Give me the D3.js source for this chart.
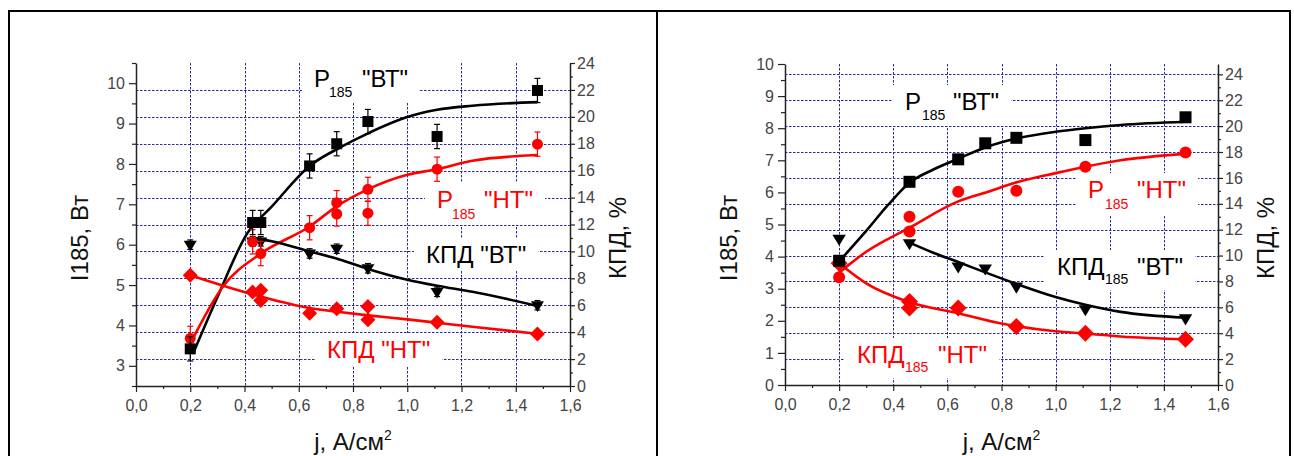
<!DOCTYPE html>
<html>
<head>
<meta charset="utf-8">
<script src="https://cdn.jsdelivr.net/npm/d3@7"></script>
<style>
body{margin:0;background:#fff;}
svg text{font-family:"Liberation Sans",Arial,sans-serif;}
</style>
</head>
<body>
<div class="c_chart"></div>
<script>
/*DATA
------------------------------------------------------
*/
// left panel: measured points
const jA_pBT = [0.2, 0.43, 0.46, 0.64, 0.74, 0.855, 1.11, 1.48];
const pA_BT  = [3.42, 6.55, 6.55, 7.95, 8.5, 9.05, 8.68, 9.82];
const jA_pHT = [0.2, 0.43, 0.46, 0.64, 0.74, 0.74, 0.855, 0.855, 1.11, 1.48];
const pA_HT  = [3.68, 6.07, 5.78, 6.42, 7.04, 6.76, 7.37, 6.78, 7.87, 8.49];
const jA_eBT = [0.2, 0.43, 0.46, 0.64, 0.74, 0.855, 1.11, 1.48];
const eA_BT  = [10.5, 10.75, 10.75, 9.85, 10.2, 8.75, 7.0, 6.0];
const jA_eHT = [0.2, 0.43, 0.46, 0.46, 0.64, 0.74, 0.855, 0.855, 1.11, 1.48];
const eA_HT  = [8.23, 6.98, 7.11, 6.36, 5.41, 5.74, 5.91, 4.92, 4.74, 3.87];
// left panel: fitted curves
const fjA_pBT = [0.21, 0.3, 0.41, 0.5, 0.64, 0.75, 0.85, 1.0, 1.11, 1.24, 1.48];
const fA_pBT  = [3.3, 4.7, 6.28, 6.94, 7.95, 8.4, 8.74, 9.16, 9.34, 9.44, 9.53];
const fjA_pHT = [0.2, 0.32, 0.46, 0.64, 0.74, 0.855, 1.0, 1.11, 1.24, 1.48];
const fA_pHT  = [3.55, 4.96, 5.78, 6.45, 6.95, 7.37, 7.73, 7.87, 8.08, 8.22];
const fjA_eBT = [0.43, 0.5, 0.64, 0.75, 0.855, 1.0, 1.11, 1.24, 1.48];
const fA_eBT  = [11.0, 10.75, 10.0, 9.4, 8.7, 7.9, 7.45, 7.0, 5.95];
const fjA_eHT = [0.2, 0.33, 0.46, 0.64, 0.75, 0.855, 1.0, 1.11, 1.24, 1.48];
const fA_eHT  = [8.23, 7.4, 6.65, 5.8, 5.5, 5.25, 4.95, 4.7, 4.4, 3.88];

// right panel: measured points
const jB_pBT = [0.2, 0.46, 0.64, 0.74, 0.855, 1.11, 1.48];
const pB_BT  = [3.87, 6.33, 7.03, 7.53, 7.7, 7.63, 8.34];
const jB_pHT = [0.2, 0.2, 0.46, 0.46, 0.64, 0.855, 1.11, 1.48];
const pB_HT  = [3.8, 3.36, 5.24, 4.78, 6.02, 6.05, 6.8, 7.24];
const jB_eBT = [0.2, 0.46, 0.64, 0.74, 0.855, 1.11, 1.48];
const eB_BT  = [11.3, 10.95, 9.15, 9.0, 7.6, 5.85, 5.15];
const jB_eHT = [0.2, 0.46, 0.46, 0.64, 0.855, 1.11, 1.48];
const eB_HT  = [9.4, 6.45, 5.95, 5.95, 4.51, 4.0, 3.53];
// right panel: fitted curves
const fjB_pBT = [0.2, 0.3, 0.38, 0.46, 0.55, 0.64, 0.74, 0.85, 1.0, 1.11, 1.24, 1.48];
const fB_pBT  = [3.85, 4.8, 5.6, 6.3, 6.72, 7.05, 7.4, 7.67, 7.89, 8.0, 8.1, 8.2];
const fjB_pHT = [0.2, 0.3, 0.46, 0.64, 0.75, 0.85, 1.0, 1.11, 1.24, 1.48];
const fB_pHT  = [3.5, 4.15, 4.9, 5.72, 6.02, 6.3, 6.6, 6.8, 7.0, 7.2];
const fjB_eBT = [0.46, 0.55, 0.64, 0.74, 0.85, 1.0, 1.11, 1.24, 1.48];
const fB_eBT  = [11.0, 10.2, 9.5, 8.7, 7.85, 6.8, 6.2, 5.65, 5.2];
const fjB_eHT = [0.2, 0.3, 0.46, 0.64, 0.8, 1.0, 1.11, 1.24, 1.48];
const fB_eHT  = [9.4, 7.85, 6.4, 5.55, 4.75, 4.15, 3.98, 3.75, 3.53];

// ticks
const xMajor = [0, 0.2, 0.4, 0.6, 0.8, 1.0, 1.2, 1.4, 1.6];
const xGrid = [0.2, 0.4, 0.6, 0.8, 1.0, 1.2, 1.4];
const leftMajorA = [3, 4, 5, 6, 7, 8, 9, 10];
const leftMajorB = [0, 1, 2, 3, 4, 5, 6, 7, 8, 9, 10];
const rightMajor = [0, 2, 4, 6, 8, 10, 12, 14, 16, 18, 20, 22, 24];

const BLACK = "#000";
const RED = "#ff0000";
const GRID = "#2a2aa0";

/*SVG
------------------------------------------------------
*/
let svg = d3.select(".c_chart").append("svg")
	.attr("width", 1294)
	.attr("height", 456);

const comma = d3.formatLocale({decimal: ",", thousands: " ", grouping: [3], currency: ["", ""]});
const fmtX = comma.format(".1f");

const zip = (a, b) => a.map((v, i) => [v, b[i]]);

function minorTicks(lo, hi, step, majors) {
	return d3.range(lo, hi + step / 2, step)
		.map(v => +v.toFixed(3))
		.filter(v => !majors.some(m => Math.abs(m - v) < 1e-6));
}

function drawPanel(p) {
	const x = d3.scaleLinear().domain([0, 1.6]).range([p.left, p.right]);
	const yL = d3.scaleLinear().domain(p.leftDomain).range([p.bottom, p.top]);
	const yR = d3.scaleLinear().domain(p.rightDomain).range([p.bottom, p.top]);
	const g = svg.append("g");

	/*grid*/
	const grid = g.append("g")
		.attr("stroke", GRID)
		.attr("stroke-width", 1)
		.attr("stroke-dasharray", "2.5,1.5");
	grid.selectAll(".gv").data(xGrid).enter().append("line")
		.attr("x1", d => Math.round(x(d)) + 0.5)
		.attr("x2", d => Math.round(x(d)) + 0.5)
		.attr("y1", p.top)
		.attr("y2", p.bottom);
	grid.selectAll(".gh").data(rightMajor.filter(v => v > 0 && v < p.rightDomain[1] - 0.01)).enter().append("line")
		.attr("x1", p.left)
		.attr("x2", p.right)
		.attr("y1", d => Math.round(yR(d)) + 0.5)
		.attr("y2", d => Math.round(yR(d)) + 0.5);

	/*labels with white boxes*/
	p.labels.forEach(lb => {
		const lg = g.append("g");
		const bg = lg.append("rect").attr("fill", "#fff");
		const t = lg.append("text").attr("fill", lb.color);
		lb.parts.forEach(pt => {
			t.append("tspan")
				.attr("x", pt[1])
				.attr("y", pt[2])
				.attr("font-size", pt[3])
				.text(pt[0]);
		});
		const bb = t.node().getBBox();
		bg.attr("x", bb.x - 12).attr("y", bb.y - 3)
			.attr("width", bb.width + 24).attr("height", bb.height + 6);
	});

	/*axes*/
	const styleAxis = (sel) => {
		sel.select(".domain").attr("stroke", "#222").attr("stroke-width", 1.5);
		sel.selectAll(".tick line").attr("stroke", "#222").attr("stroke-width", 1.2);
		sel.selectAll("text")
			.attr("font-size", 16)
			.attr("fill", "#444")
			.attr("font-family", "'Liberation Sans', Arial, sans-serif");
	};

	const lMinor = minorTicks(p.leftDomain[0], p.leftDomain[1], 0.5, p.leftMajor);
	const rMinor = minorTicks(0, Math.floor(p.rightDomain[1]), 1, rightMajor);
	const xMinor = minorTicks(0, 1.6, 0.1, xMajor);

	g.append("g").attr("transform", `translate(${p.left},0)`)
		.call(d3.axisLeft(yL).tickValues(lMinor).tickSize(4).tickFormat(""))
		.call(s => s.select(".domain").remove())
		.call(styleAxis);
	g.append("g").attr("transform", `translate(${p.left},0)`)
		.call(d3.axisLeft(yL).tickValues(p.leftMajor).tickSize(7).tickPadding(4).tickSizeOuter(0).tickFormat(d3.format("d")))
		.call(styleAxis);

	g.append("g").attr("transform", `translate(${p.right},0)`)
		.call(d3.axisRight(yR).tickValues(rMinor).tickSize(3).tickFormat(""))
		.call(s => s.select(".domain").remove())
		.call(styleAxis);
	g.append("g").attr("transform", `translate(${p.right},0)`)
		.call(d3.axisRight(yR).tickValues(rightMajor).tickSize(5).tickPadding(2).tickSizeOuter(0).tickFormat(d3.format("d")))
		.call(styleAxis);

	g.append("g").attr("transform", `translate(0,${p.bottom})`)
		.call(d3.axisBottom(x).tickValues(xMinor).tickSize(3).tickFormat(""))
		.call(s => s.select(".domain").remove())
		.call(styleAxis);
	g.append("g").attr("transform", `translate(0,${p.bottom})`)
		.call(d3.axisBottom(x).tickValues(xMajor).tickSize(6).tickPadding(8).tickSizeOuter(0).tickFormat(fmtX))
		.call(styleAxis);

	/*axis titles*/
	const midY = 238;
	g.append("text")
		.attr("transform", `translate(${p.left - 48},${midY}) rotate(-90)`)
		.attr("text-anchor", "middle")
		.attr("font-size", 24)
		.attr("fill", "#111")
		.text("I185, Вт");
	g.append("text")
		.attr("transform", `translate(${p.right + 56},${midY}) rotate(-90)`)
		.attr("text-anchor", "middle")
		.attr("font-size", 24)
		.attr("fill", "#111")
		.text("КПД, %");
	const xt = g.append("text")
		.attr("x", (p.left + p.right) / 2)
		.attr("y", 450)
		.attr("text-anchor", "middle")
		.attr("font-size", 24)
		.attr("fill", "#111");
	xt.append("tspan").text("j, А/см");
	xt.append("tspan").attr("font-size", 14).attr("dy", -10).text("2");

	/*fit curves*/
	const lineL = d3.line().x(d => x(d[0])).y(d => yL(d[1])).curve(d3.curveMonotoneX);
	const lineR = d3.line().x(d => x(d[0])).y(d => yR(d[1])).curve(d3.curveMonotoneX);
	p.fits.forEach(f => {
		g.append("path")
			.attr("d", (f.axis === "L" ? lineL : lineR)(zip(f.j, f.v)))
			.attr("fill", "none")
			.attr("stroke", f.color)
			.attr("stroke-width", 2.6)
			.attr("stroke-linejoin", "round");
	});

	/*points*/
	p.series.forEach(s => {
		const y = s.axis === "L" ? yL : yR;
		const pts = zip(s.j, s.v);
		if (s.err) {
			const eg = g.append("g").attr("stroke", s.color).attr("stroke-width", 1.2);
			pts.forEach(d => {
				const cx = x(d[0]);
				const yt = y(d[1] + s.err), yb = y(d[1] - s.err);
				eg.append("line").attr("x1", cx).attr("x2", cx).attr("y1", yt).attr("y2", yb);
				eg.append("line").attr("x1", cx - 3).attr("x2", cx + 3).attr("y1", yt).attr("y2", yt);
				eg.append("line").attr("x1", cx - 3).attr("x2", cx + 3).attr("y1", yb).attr("y2", yb);
			});
		}
		const r = s.size;
		const shape = {
			square: `M${-r},${-r}H${r}V${r}H${-r}Z`,
			circle: `M${-r},0A${r},${r} 0 1,0 ${r},0A${r},${r} 0 1,0 ${-r},0Z`,
			diamond: `M0,${-r}L${r},0L0,${r}L${-r},0Z`,
			triangle: `M${-r},${-r * 0.6}H${r}L0,${r * 1.05}Z`
		}[s.shape];
		g.append("g").selectAll("path").data(pts).enter().append("path")
			.attr("transform", d => `translate(${x(d[0])},${y(d[1])})`)
			.attr("d", shape)
			.attr("fill", s.color);
	});
}

/*PANELS
------------------------------------------------------
*/
drawPanel({
	left: 136, right: 570, top: 63, bottom: 386,
	leftDomain: [2.5, 10.5], rightDomain: [0, 24],
	leftMajor: leftMajorA,
	labels: [
		{color: BLACK, parts: [["P", 314, 87, 24], ["185", 329, 97, 14], ["\"ВТ\"", 362, 87, 24]]},
		{color: RED, parts: [["P", 437, 208, 24], ["185", 452, 219, 14], ["\"НТ\"", 484, 208, 24]]},
		{color: BLACK, parts: [["КПД \"ВТ\"", 426, 263, 24]]},
		{color: RED, parts: [["КПД \"НТ\"", 327, 358, 24]]}
	],
	fits: [
		{j: fjA_pBT, v: fA_pBT, axis: "L", color: BLACK},
		{j: fjA_pHT, v: fA_pHT, axis: "L", color: RED},
		{j: fjA_eBT, v: fA_eBT, axis: "R", color: BLACK},
		{j: fjA_eHT, v: fA_eHT, axis: "R", color: RED}
	],
	series: [
		{j: jA_eHT, v: eA_HT, axis: "R", color: RED, shape: "diamond", size: 7.5},
		{j: jA_eBT, v: eA_BT, axis: "R", color: BLACK, shape: "triangle", size: 6.5, err: 0.35},
		{j: jA_pHT, v: pA_HT, axis: "L", color: RED, shape: "circle", size: 5.5, err: 0.3},
		{j: jA_pBT, v: pA_BT, axis: "L", color: BLACK, shape: "square", size: 5.5, err: 0.3}
	]
});

drawPanel({
	left: 785, right: 1218, top: 64, bottom: 385,
	leftDomain: [0, 10], rightDomain: [0, 24.8],
	leftMajor: leftMajorB,
	labels: [
		{color: BLACK, parts: [["P", 905, 110, 24], ["185", 922, 120, 14], ["\"ВТ\"", 953, 110, 24]]},
		{color: RED, parts: [["P", 1088, 198, 24], ["185", 1105, 209, 14], ["\"НТ\"", 1137, 198, 24]]},
		{color: BLACK, parts: [["КПД", 1057, 275, 24], ["185", 1105, 284, 14], ["\"ВТ\"", 1137, 275, 24]]},
		{color: RED, parts: [["КПД", 857, 363, 24], ["185", 905, 372, 14], ["\"НТ\"", 938, 363, 24]]}
	],
	fits: [
		{j: fjB_pBT, v: fB_pBT, axis: "L", color: BLACK},
		{j: fjB_pHT, v: fB_pHT, axis: "L", color: RED},
		{j: fjB_eBT, v: fB_eBT, axis: "R", color: BLACK},
		{j: fjB_eHT, v: fB_eHT, axis: "R", color: RED}
	],
	series: [
		{j: jB_eHT, v: eB_HT, axis: "R", color: RED, shape: "diamond", size: 8.5},
		{j: jB_eBT, v: eB_BT, axis: "R", color: BLACK, shape: "triangle", size: 6.7},
		{j: jB_pHT, v: pB_HT, axis: "L", color: RED, shape: "circle", size: 6},
		{j: jB_pBT, v: pB_BT, axis: "L", color: BLACK, shape: "square", size: 6}
	]
});

/*FRAME
------------------------------------------------------
*/
svg.append("path")
	.attr("d", "M9,456V11H1290V456M657,11V456")
	.attr("fill", "none")
	.attr("stroke", "#000")
	.attr("stroke-width", 2);
</script>
</body>
</html>
